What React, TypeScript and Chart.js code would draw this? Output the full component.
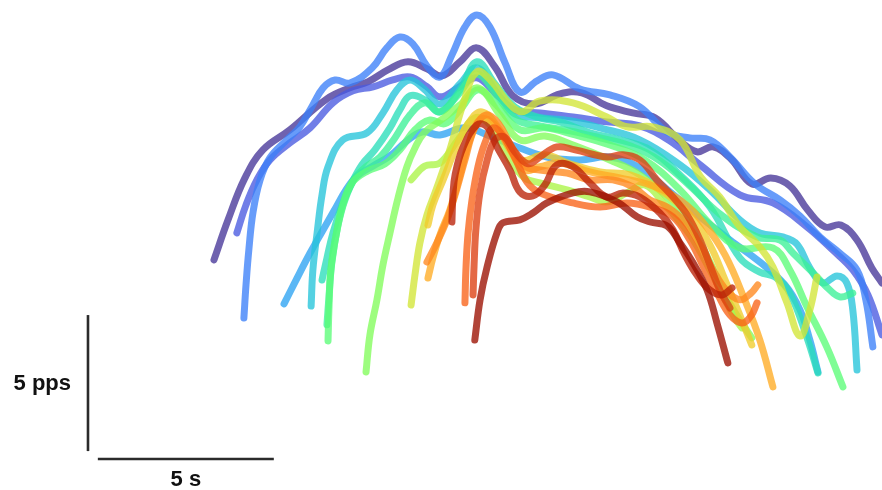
import React, { useEffect, useRef } from "react";
import { Chart, registerables } from "chart.js";

Chart.register(...registerables);

// Each trace: [time (s), rate (pps)]
const trace01: [number, number][] = [[6.08,8.46],[6.48,9.93],[6.96,11.47],[7.47,12.5],[8.24,13.24],[9.29,14.38],[9.94,14.78],[10.45,15.0],[11.02,15.44],[11.59,15.74],[12.13,15.48],[12.56,15.22],[13.07,15.74],[13.55,16.25],[14.06,15.55],[14.57,14.49],[15.2,14.19],[15.91,14.56],[16.53,14.6],[17.24,14.12],[17.98,13.86],[18.61,13.68],[19.32,12.83],[19.8,12.43],[20.26,12.61],[20.77,12.17],[21.36,11.25],[21.9,11.47],[22.44,11.18],[22.95,10.29],[23.44,9.67],[23.89,9.74],[24.35,9.19],[24.77,8.16],[25.06,7.61]];
const trace02: [number, number][] = [[6.73,9.45],[6.99,10.48],[7.3,11.4],[7.67,12.13],[8.24,12.76],[8.81,13.31],[9.46,14.23],[10.03,14.67],[10.6,14.82],[11.16,15.07],[11.65,15.18],[12.13,14.82],[12.5,14.45],[13.01,14.78],[13.55,15.15],[14.12,14.52],[14.63,13.97],[15.34,13.86],[16.28,13.71],[17.24,13.53],[18.18,13.38],[19.03,12.83],[19.89,11.95],[21.02,10.85],[21.96,10.55],[22.93,9.67],[23.66,8.82],[24.23,8.09],[24.66,7.17],[25.06,5.7]];
const trace03: [number, number][] = [[6.93,6.32],[6.99,7.54],[7.07,8.82],[7.19,10.22],[7.39,11.4],[7.67,12.21],[8.15,12.87],[8.52,13.35],[8.84,14.04],[9.18,14.78],[9.52,15.07],[9.94,14.96],[10.57,15.51],[10.99,16.25],[11.36,16.65],[11.73,16.4],[12.13,15.59],[12.5,15.18],[12.84,15.99],[13.21,17.02],[13.55,17.46],[13.92,17.02],[14.35,15.7],[14.77,14.63],[15.26,15.04],[15.71,15.26],[16.48,14.74],[17.33,14.52],[18.18,14.08],[18.95,13.16],[19.6,12.94],[20.17,12.87],[20.74,12.24],[21.45,11.25],[22.16,10.66],[22.73,10.07],[23.3,9.3],[23.86,8.71],[24.35,8.09],[24.6,6.99],[24.8,5.26]];
const trace04: [number, number][] = [[8.07,6.84],[8.44,7.79],[8.81,8.71],[9.15,9.49],[9.49,10.26],[9.83,11.03],[10.14,11.54],[10.6,11.91],[11.08,12.28],[11.56,12.83],[11.99,13.16],[12.5,13.05],[13.21,13.31],[13.92,13.01],[14.77,12.57],[15.63,12.21],[16.48,12.13],[17.33,12.24],[18.18,11.84],[19.03,10.96],[19.89,10.04],[20.74,9.19],[21.59,8.38],[22.3,7.54],[22.73,6.62],[23.01,5.51],[23.24,4.34]];
const trace05: [number, number][] = [[8.84,6.76],[8.89,8.09],[9.01,9.45],[9.15,10.85],[9.32,11.88],[9.74,12.87],[10.43,13.13],[10.88,13.86],[11.28,14.71],[11.65,15.07],[12.07,14.71],[12.5,14.19],[13.07,14.93],[13.55,15.51],[14.12,14.6],[14.63,13.82],[15.34,13.68],[16.19,13.57],[17.05,13.31],[18.18,12.87],[19.32,11.95],[20.17,11.03],[21.02,9.93],[21.59,9.45],[22.24,9.3],[22.64,9.04],[23.01,8.16],[23.38,7.61],[23.78,7.87],[24.06,7.61],[24.23,6.62],[24.35,4.41]];
const trace06: [number, number][] = [[9.15,7.72],[9.29,8.53],[9.46,9.45],[9.72,10.48],[9.94,11.14],[10.28,11.95],[10.65,12.5],[11.08,13.31],[11.36,13.97],[11.65,14.49],[12.07,14.34],[12.5,13.9],[13.07,14.71],[13.55,15.74],[14.06,14.93],[14.63,14.08],[15.34,13.68],[15.91,13.53],[16.76,13.13],[17.61,12.87],[18.47,12.5],[19.32,11.58],[20.17,10.4],[21.02,8.53],[21.59,8.01],[22.02,7.83],[22.44,7.24],[22.93,5.59],[23.24,4.3]];
const trace07: [number, number][] = [[9.29,6.07],[9.35,7.17],[9.43,8.38],[9.6,9.71],[9.8,10.66],[10.09,11.47],[10.43,11.91],[10.8,12.24],[11.22,12.94],[11.65,13.79],[12.07,14.23],[12.5,13.9],[13.01,14.52],[13.55,15.29],[14.12,14.49],[14.69,13.6],[15.34,13.38],[16.19,13.2],[17.05,12.94],[17.9,12.65],[18.75,12.1],[19.6,11.18],[20.45,10.15],[21.51,9.3],[22.16,9.19],[22.53,8.71],[23.1,7.98],[23.49,7.46],[23.86,7.1],[24.23,7.24]];
const trace08: [number, number][] = [[9.32,5.48],[9.35,6.8],[9.4,8.09],[9.55,9.38],[9.74,10.48],[10.0,11.29],[10.45,11.73],[10.94,11.99],[11.36,12.5],[11.79,13.24],[12.22,13.6],[12.64,13.46],[13.07,13.97],[13.58,14.71],[14.12,14.12],[14.77,13.24],[15.48,13.31],[16.34,13.05],[17.33,12.68],[18.32,12.13],[19.32,11.03],[20.17,9.78],[21.02,8.9],[21.96,8.9],[22.44,8.09],[22.93,6.73],[23.49,5.26],[23.95,3.79]];
const trace09: [number, number][] = [[10.4,4.34],[10.51,5.7],[10.71,6.99],[10.88,8.27],[11.08,9.45],[11.31,10.74],[11.56,11.88],[11.79,12.57],[12.05,13.13],[12.5,13.57],[13.07,14.15],[13.58,14.78],[14.2,13.79],[14.77,12.87],[15.48,13.01],[16.34,12.65],[17.33,12.13],[18.18,11.58],[19.03,10.66],[19.66,9.63],[20.17,8.38],[20.6,7.17],[21.02,6.25],[21.36,5.59]];
const trace10: [number, number][] = [[11.68,11.4],[12.07,11.91],[12.5,12.02],[13.01,12.87],[13.49,13.68],[13.92,13.42],[14.49,12.13],[14.91,11.47],[15.34,11.29],[16.11,11.03],[16.76,10.77],[17.24,10.59],[17.81,10.92],[18.32,11.21],[18.89,10.48],[19.6,9.38],[20.17,8.09],[20.6,6.99],[20.88,6.32],[21.08,5.96]];
const trace11: [number, number][] = [[11.68,6.8],[11.79,7.9],[11.93,9.08],[12.13,10.11],[12.41,11.1],[12.78,12.5],[13.15,14.15],[13.55,15.37],[13.98,15.0],[14.4,14.3],[14.83,13.9],[15.34,14.3],[16.28,14.23],[17.24,13.71],[17.81,13.35],[18.55,13.35],[19.32,12.87],[19.89,11.54],[20.45,10.77],[21.02,9.67],[21.59,8.93],[21.96,8.2],[22.36,6.88],[22.73,5.66],[23.01,6.62],[23.21,7.83]];
const trace12: [number, number][] = [[12.16,9.74],[12.3,10.48],[12.59,11.4],[12.93,12.5],[13.3,13.46],[13.69,13.9],[14.2,13.24],[14.77,12.13],[15.48,12.32],[16.19,11.99],[17.05,11.69],[17.9,11.58],[18.75,11.03],[19.6,10.11],[20.17,9.01],[20.6,7.72],[21.02,6.43],[21.36,5.33]];
const trace13: [number, number][] = [[12.16,7.79],[12.3,8.53],[12.5,9.38],[12.78,10.29],[13.07,11.58],[13.35,12.87],[13.66,13.64],[14.06,13.42],[14.49,12.5],[14.91,11.76],[15.34,11.88],[15.91,12.02],[16.76,11.69],[17.61,11.47],[18.47,11.21],[19.32,10.66],[20.03,9.74],[20.6,8.64],[21.16,6.99],[21.59,5.51],[21.96,3.79]];
const trace14: [number, number][] = [[12.13,8.38],[12.41,9.08],[12.7,9.93],[12.93,10.85],[13.21,12.13],[13.49,13.31],[13.81,13.79],[14.15,13.49],[14.52,12.65],[14.91,11.91],[15.34,11.76],[16.11,11.65],[16.76,11.4],[17.41,11.4],[17.98,11.14],[18.47,10.66],[18.95,10.4],[19.46,9.85],[19.89,9.01],[20.26,8.09],[20.63,7.35],[21.02,6.99],[21.34,7.24],[21.53,7.54]];
const trace15: [number, number][] = [[13.21,6.88],[13.24,8.16],[13.3,9.45],[13.41,10.66],[13.58,11.88],[13.78,12.76],[14.01,13.31],[14.29,13.01],[14.63,12.21],[14.97,11.32],[15.34,10.92],[16.28,10.55],[17.05,10.4],[17.81,10.55],[18.47,10.4],[19.12,10.04],[19.6,9.19],[20.03,8.09],[20.4,7.17],[20.74,6.43],[21.08,6.14],[21.34,6.4],[21.51,6.88]];
const trace16: [number, number][] = [[13.44,7.17],[13.47,8.27],[13.52,9.56],[13.64,10.96],[13.84,12.13],[14.06,12.87],[14.32,12.98],[14.63,12.43],[15.0,11.99],[15.34,12.24],[15.82,12.61],[16.34,12.5],[17.24,12.24],[17.7,12.32],[18.18,12.13],[18.66,11.4],[19.12,10.77],[19.52,10.11],[19.89,9.19],[20.17,8.27],[20.45,7.35],[20.74,6.69]];
const trace17: [number, number][] = [[12.84,9.85],[12.87,10.85],[12.93,11.58],[13.15,12.57],[13.55,13.42],[13.84,13.35],[14.12,12.61],[14.49,11.76],[14.77,10.96],[15.14,10.81],[15.48,11.21],[15.82,11.95],[16.28,11.88],[16.76,11.29],[17.24,10.77],[17.7,10.92],[18.18,10.77],[18.75,10.18],[19.12,9.56],[19.46,8.64],[19.8,7.9],[20.17,7.35],[20.51,7.17],[20.8,7.43]];
const trace18: [number, number][] = [[13.49,5.51],[13.64,6.99],[13.84,8.2],[14.12,9.45],[14.29,9.82],[14.77,9.93],[15.14,10.18],[15.54,10.55],[16.28,10.92],[16.76,10.96],[17.53,10.59],[18.1,10.04],[18.47,9.85],[18.95,9.71],[19.32,9.08],[19.69,8.35],[20.09,7.35],[20.37,6.14],[20.68,4.67]];

const traces = [trace01, trace02, trace03, trace04, trace05, trace06, trace07, trace08, trace09, trace10, trace11, trace12, trace13, trace14, trace15, trace16, trace17, trace18];

// Scale bars (data units)
const scaleBarSeconds = 5;
const scaleBarPps = 5;
const scaleBarLabels = ["5 pps", "5 s"];

function turbo(t: number): number[] {
  t = Math.min(1, Math.max(0, t));
  const r = 0.13572138 + t * (4.6153926 + t * (-42.66032258 + t * (132.13108234 + t * (-152.94239396 + t * 59.28637943))));
  const g = 0.09140261 + t * (2.19418839 + t * (4.84296658 + t * (-14.18503333 + t * (4.27729857 + t * 2.82956604))));
  const b = 0.1066733 + t * (12.64194608 + t * (-60.58204836 + t * (110.36276771 + t * (-89.90310912 + t * 27.34824973))));
  return [r, g, b].map((v) => Math.round(255 * Math.min(1, Math.max(0, v))));
}

export default function App() {
  const ref = useRef<HTMLCanvasElement | null>(null);

  useEffect(() => {
    if (!ref.current) return;
    const vBarT = 2.5;
    const vBarR = 1.43;
    const hBarT = 2.78;
    const hBarR = 1.14;

    const n = traces.length;
    const lineSets: any[] = traces.map((tr, i) => {
      const [r, g, b] = turbo(0.05 + (0.9 * i) / (n - 1));
      return {
        data: tr.map(([x, y]) => ({ x, y })),
        borderColor: `rgba(${r},${g},${b},0.78)`,
        borderWidth: 7,
        borderCapStyle: "round",
        borderJoinStyle: "round",
        pointRadius: 0,
        fill: false,
        tension: 0.4,
        order: n - i,
      };
    });

    const barStyle = {
      borderColor: "#2b2b2b",
      borderWidth: 2.6,
      borderCapStyle: "butt",
      pointRadius: 0,
      fill: false,
      tension: 0,
      order: 100,
    };
    const bars: any[] = [
      { ...barStyle, data: [{ x: vBarT, y: vBarR }, { x: vBarT, y: vBarR + scaleBarPps }] },
      { ...barStyle, data: [{ x: hBarT, y: hBarR }, { x: hBarT + scaleBarSeconds, y: hBarR }] },
    ];

    const labelPlugin = {
      id: "scaleLabels",
      afterDatasetsDraw(chart: any) {
        const { ctx, scales } = chart;
        const xs = scales.x;
        const ys = scales.y;
        ctx.save();
        ctx.fillStyle = "#111";
        ctx.font = 'bold 22px "Liberation Sans", Arial, sans-serif';
        const vx = xs.getPixelForValue(vBarT);
        const vmid = (ys.getPixelForValue(vBarR) + ys.getPixelForValue(vBarR + scaleBarPps)) / 2;
        ctx.textAlign = "right";
        ctx.textBaseline = "alphabetic";
        ctx.fillText(scaleBarLabels[0], vx - 17, vmid + 7);
        const hx = (xs.getPixelForValue(hBarT) + xs.getPixelForValue(hBarT + scaleBarSeconds)) / 2;
        const hy = ys.getPixelForValue(hBarR);
        ctx.textAlign = "center";
        ctx.fillText(scaleBarLabels[1], hx, hy + 27);
        ctx.restore();
      },
    };

    const chart = new Chart(ref.current, {
      type: "line",
      data: { datasets: [...lineSets, ...bars] },
      options: {
        responsive: false,
        animation: false,
        events: [],
        layout: { padding: 0 },
        plugins: {
          legend: { display: false },
          tooltip: { enabled: false },
          title: { display: false },
        },
        scales: {
          x: { type: "linear", min: 0, max: 25.06, display: false },
          y: { type: "linear", min: 0, max: 18.01, display: false },
        },
      },
      plugins: [labelPlugin],
    } as any);

    return () => chart.destroy();
  }, []);

  return (
    <div style={{ position: "fixed", left: 0, top: 0, width: 882, height: 490, background: "#fff" }}>
      <canvas ref={ref} width={882} height={490} style={{ display: "block" }} />
    </div>
  );
}
